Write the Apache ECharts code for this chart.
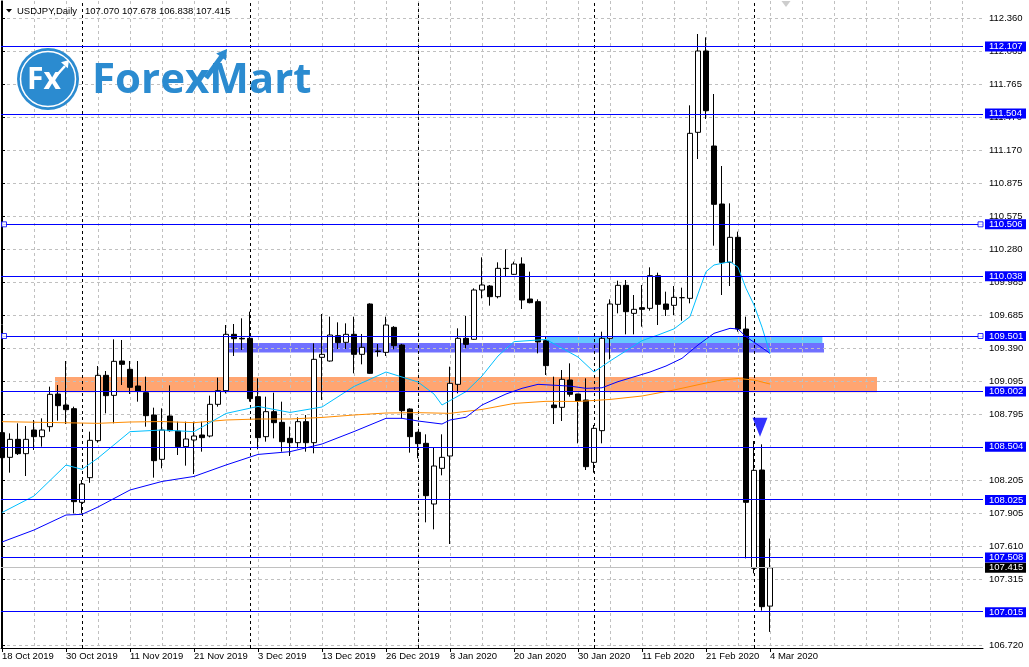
<!DOCTYPE html>
<html>
<head>
<meta charset="utf-8">
<title>USDJPY Daily</title>
<script src="https://cdn.jsdelivr.net/npm/echarts@6/dist/echarts.min.js"></script>
<style>
html, body { margin: 0; padding: 0; background: #fff; }
#main { width: 1029px; height: 667px; }
</style>
</head>
<body>
<div id="main"></div>
<script>
// bar 0 = 18 Oct 2019, one bar per trading day; a date label every 8th bar
var dateLabels = ['18 Oct 2019', '30 Oct 2019', '11 Nov 2019', '21 Nov 2019', '3 Dec 2019',
    '13 Dec 2019', '26 Dec 2019', '8 Jan 2020', '20 Jan 2020', '30 Jan 2020',
    '11 Feb 2020', '21 Feb 2020', '4 Mar 2020'];

// [open, high, low, close]
var candles = [
    [108.631, 108.715, 108.355, 108.406], [108.409, 108.625, 108.271, 108.571], [108.571, 108.715, 108.430, 108.442],
    [108.442, 108.691, 108.241, 108.571], [108.655, 108.745, 108.475, 108.595], [108.595, 108.760, 108.505, 108.655],
    [108.685, 109.045, 108.640, 108.976], [108.979, 109.060, 108.739, 108.874], [108.880, 109.276, 108.709, 108.838],
    [108.847, 108.865, 107.905, 108.010], [108.004, 108.205, 107.905, 108.169], [108.226, 108.640, 108.180, 108.562],
    [108.559, 109.231, 108.541, 109.147], [109.147, 109.186, 108.805, 108.964], [108.967, 109.471, 108.715, 109.273],
    [109.276, 109.465, 109.060, 109.246], [109.201, 109.276, 108.979, 109.039], [109.051, 109.276, 108.910, 109.006],
    [108.991, 109.135, 108.685, 108.784], [108.790, 108.856, 108.226, 108.379], [108.391, 108.850, 108.310, 108.655],
    [108.781, 109.057, 108.640, 108.649], [108.646, 108.730, 108.430, 108.505], [108.505, 108.730, 108.334, 108.574],
    [108.565, 108.730, 108.259, 108.601], [108.610, 108.730, 108.460, 108.586], [108.601, 108.964, 108.589, 108.886],
    [108.886, 109.126, 108.865, 109.009], [109.009, 109.600, 108.985, 109.516], [109.516, 109.609, 109.321, 109.477],
    [109.480, 109.660, 109.375, 109.475], [109.480, 109.720, 108.910, 108.937], [108.955, 109.120, 108.481, 108.586],
    [108.595, 108.955, 108.550, 108.820], [108.820, 108.991, 108.580, 108.721], [108.724, 108.910, 108.460, 108.550],
    [108.580, 108.685, 108.421, 108.541], [108.541, 108.769, 108.490, 108.730], [108.730, 108.790, 108.460, 108.541],
    [108.541, 109.435, 108.445, 109.291], [109.309, 109.699, 108.925, 109.336], [109.276, 109.675, 109.270, 109.510],
    [109.504, 109.624, 109.384, 109.441], [109.444, 109.615, 109.384, 109.516], [109.516, 109.675, 109.165, 109.336],
    [109.336, 109.519, 109.246, 109.399], [109.789, 109.795, 109.160, 109.165], [109.366, 109.429, 109.315, 109.362],
    [109.354, 109.675, 109.321, 109.600], [109.579, 109.590, 109.381, 109.414], [109.420, 109.430, 108.760, 108.829],
    [108.844, 108.850, 108.451, 108.595], [108.634, 108.640, 108.400, 108.532], [108.535, 108.616, 107.824, 108.064],
    [107.989, 108.496, 107.761, 108.331], [108.310, 108.616, 108.247, 108.409], [108.421, 109.225, 107.629, 109.075],
    [109.066, 109.570, 108.985, 109.480], [109.480, 109.681, 109.390, 109.426], [109.471, 109.930, 109.465, 109.915],
    [109.915, 110.209, 109.840, 109.960], [109.951, 109.960, 109.774, 109.855], [109.855, 110.164, 109.840, 110.110],
    [110.110, 110.281, 110.035, 110.108], [110.056, 110.170, 110.050, 110.149], [110.149, 110.209, 109.744, 109.825],
    [109.834, 110.080, 109.795, 109.801], [109.810, 109.831, 109.345, 109.447], [109.459, 109.495, 109.150, 109.234],
    [108.880, 109.135, 108.709, 108.856], [108.859, 109.195, 108.736, 109.111], [109.105, 109.255, 108.955, 108.976],
    [108.979, 108.980, 108.535, 108.916], [108.925, 109.120, 108.295, 108.325], [108.364, 108.700, 108.271, 108.670],
    [108.649, 109.540, 108.535, 109.480], [109.480, 109.831, 109.291, 109.789], [109.786, 109.999, 109.705, 109.957],
    [109.957, 110.005, 109.516, 109.720], [109.705, 109.870, 109.516, 109.741], [109.756, 109.960, 109.585, 109.741],
    [109.750, 110.119, 109.729, 110.044], [110.044, 110.071, 109.600, 109.786], [109.789, 109.900, 109.681, 109.741],
    [109.777, 109.951, 109.690, 109.849], [109.846, 109.936, 109.639, 109.846], [109.840, 111.577, 109.795, 111.325],
    [111.334, 112.219, 111.094, 112.066], [112.066, 112.189, 111.454, 111.529], [111.211, 111.679, 110.314, 110.686],
    [110.689, 111.031, 109.870, 110.164], [110.164, 110.695, 109.951, 110.389], [110.389, 110.440, 109.540, 109.564],
    [109.564, 109.675, 107.500, 108.004], [107.410, 108.556, 107.365, 108.292], [108.295, 108.526, 107.029, 107.065],
    [107.070, 107.678, 106.838, 107.415]
];

// moving averages: [bar, value]
var maFast = [[0, 107.912], [4, 108.061], [8, 108.340], [10, 108.301], [12, 108.403], [16, 108.640], [20, 108.655],
    [24, 108.640], [28, 108.804], [32, 108.867], [36, 108.813], [40, 108.862], [44, 109.047], [48, 109.177],
    [52, 109.087], [54, 108.979], [55, 108.880], [58, 109.000], [60, 109.141], [62, 109.321], [64, 109.450],
    [68, 109.470], [72, 109.312], [74, 109.177], [76, 109.276], [80, 109.459], [82, 109.510], [84, 109.565],
    [86, 109.675], [87, 109.880], [88, 110.080], [89, 110.140], [91, 110.170], [92, 110.120], [93, 109.930],
    [94, 109.780], [95, 109.580], [96, 109.345]];
var maMid = [[0, 107.647], [4, 107.755], [8, 107.890], [10, 107.896], [12, 107.962], [16, 108.115], [20, 108.192],
    [24, 108.237], [28, 108.340], [32, 108.435], [36, 108.460], [40, 108.529], [44, 108.641], [48, 108.760],
    [50, 108.760], [52, 108.736], [55, 108.709], [56, 108.745], [58, 108.770], [60, 108.880], [63, 108.979],
    [65, 109.030], [67, 109.066], [71, 109.050], [73, 109.030], [75, 109.035], [77, 109.090], [81, 109.177],
    [83, 109.231], [85, 109.300], [87, 109.420], [89, 109.525], [91, 109.570], [92, 109.564], [93, 109.495],
    [96, 109.345]];
var maSlow = [[0, 108.730], [8, 108.720], [12, 108.715], [16, 108.727], [20, 108.731], [24, 108.721], [28, 108.745],
    [32, 108.754], [36, 108.754], [40, 108.768], [44, 108.790], [48, 108.808], [52, 108.811], [56, 108.805],
    [60, 108.840], [64, 108.894], [68, 108.913], [72, 108.912], [76, 108.930], [80, 108.961], [84, 109.015],
    [88, 109.078], [90, 109.105], [92, 109.119], [94, 109.105], [96, 109.069]];

var levels = [112.107, 111.504, 110.506, 110.038, 109.501, 109.002, 108.504, 108.025, 107.508, 107.015];
var selectedLevels = [110.506, 109.501];
var monthStarts = [10, 31, 52, 74, 94];
var yTickLabels = ['106.720', '107.020', '107.315', '107.610', '107.905', '108.205', '108.500', '108.795',
    '109.095', '109.390', '109.685', '109.985', '110.280', '110.575', '110.875', '111.170', '111.470',
    '111.765', '112.065', '112.360'];
// [from bar, to bar, top price, bottom price]
var zones = [[6.625, 109.375, 109.132, 108.994], [28.375, 102.75, 109.438, 109.353], [67.875, 102.55, 109.495, 109.438]];
var signalArrow = [94.75, 108.68];

var xMin = -0.125, xMax = 122.625, yMin = 106.693, yMax = 112.516;
var font = 'Liberation Sans';
var logoBlue = '#2b8bd0';
var zoneColors = ['#ffa571', '#7070ff', '#66c8ff'];

var last = candles[candles.length - 1];
var lastPrice = last[3];
var candleData = candles.map(function (c, i) { return [i, c[0], c[3], c[2], c[1]]; });
var gridCols = [], labelCols = [];
for (var k = 0; k <= 120; k += 4) gridCols.push(k);
for (var j = 0; j < dateLabels.length; j++) labelCols.push(j * 8);
var yTicks = yTickLabels.map(Number);

var myChart = echarts.init(document.getElementById('main'));
option = {
    animation: false,
    backgroundColor: '#fff',
    grid: { left: 1, right: 46, top: 1, bottom: 19, outerBoundsMode: 'none' },
    xAxis: [{
        type: 'value', min: xMin, max: xMax,
        axisLine: { show: true, onZero: false, lineStyle: { color: '#000', width: 1 } },
        axisTick: { show: false, customValues: gridCols },
        splitLine: { show: true, lineStyle: { color: '#c0c0c0', width: 1, type: [3, 3] } },
        axisLabel: {
            customValues: labelCols, align: 'left', verticalAlign: 'top', margin: 3, hideOverlap: false,
            color: '#000', fontFamily: font, fontSize: 9.5,
            formatter: function (v) { return dateLabels[Math.round(v / 8)] || ''; }
        }
    }, {
        type: 'value', min: xMin, max: xMax, position: 'bottom',
        axisLine: { show: false },
        axisTick: { show: true, length: 4, customValues: labelCols, lineStyle: { color: '#000' } },
        axisLabel: { show: false },
        splitLine: { show: false }
    }],
    yAxis: [{
        type: 'value', position: 'right', min: yMin, max: yMax,
        axisLine: { show: true, lineStyle: { color: '#000', width: 1 } },
        axisTick: { show: true, length: 3, customValues: yTicks, lineStyle: { color: '#000' } },
        splitLine: { show: true, lineStyle: { color: '#c0c0c0', width: 1, type: [3, 3] } },
        axisLabel: {
            customValues: yTicks, margin: 6, hideOverlap: false, color: '#000', fontFamily: font, fontSize: 9.5,
            formatter: function (v) { return v.toFixed(3); }
        }
    }, {
        type: 'value', position: 'right', min: yMin, max: yMax,
        axisLine: { show: false }, axisTick: { show: false }, splitLine: { show: false },
        axisLabel: {
            customValues: levels.concat([lastPrice]), margin: 2, hideOverlap: false,
            formatter: function (v) {
                return (Math.abs(v - lastPrice) < 1e-6 ? '{c|' : '{b|') + v.toFixed(3) + '}';
            },
            rich: {
                b: { backgroundColor: '#0000ff', color: '#fff', fontFamily: font, fontSize: 9.5,
                    lineHeight: 11, width: 34, padding: [0, 3, 0, 4] },
                c: { backgroundColor: '#000', color: '#fff', fontFamily: font, fontSize: 9.5,
                    lineHeight: 11, width: 34, padding: [0, 3, 0, 4] }
            }
        }
    }, {
        type: 'value', position: 'left', min: yMin, max: yMax,
        axisLine: { show: true, lineStyle: { color: '#000', width: 1 } },
        axisTick: { show: false }, axisLabel: { show: false }, splitLine: { show: false }
    }],
    series: [
        {
            name: 'zones', type: 'line', data: [], silent: true,
            markArea: {
                silent: true, z: -1,
                data: zones.map(function (zn, i) {
                    return [{ xAxis: zn[0], yAxis: zn[2], itemStyle: { color: zoneColors[i], opacity: 1 } },
                        { xAxis: zn[1], yAxis: zn[3] }];
                })
            },
            markLine: {
                silent: true, z: 1, symbol: 'none', label: { show: false },
                lineStyle: { color: '#000', width: 1, type: [3, 3] },
                data: monthStarts.map(function (i) { return { xAxis: i }; })
            }
        },
        {
            name: 'USDJPY', type: 'candlestick', data: candleData, barWidth: 5, z: 2,
            itemStyle: { color: '#fff', color0: '#000', borderColor: '#000', borderColor0: '#000', borderWidth: 1 }
        },
        {
            name: 'maSlow', type: 'line', data: maSlow, showSymbol: false, z: 3,
            lineStyle: { color: '#ff8c00', width: 1 }
        },
        {
            name: 'maMid', type: 'line', data: maMid, showSymbol: false, z: 3,
            lineStyle: { color: '#0000ff', width: 1 }
        },
        {
            name: 'maFast', type: 'line', data: maFast, showSymbol: false, z: 3,
            lineStyle: { color: '#00bfff', width: 1 }
        },
        {
            name: 'levels', type: 'line', data: [], silent: true,
            markLine: {
                silent: true, z: 6, symbol: 'none', label: { show: false },
                lineStyle: { color: '#0000ff', width: 1, type: 'solid' },
                data: levels.map(function (v) { return { yAxis: v }; })
                    .concat([{ yAxis: lastPrice, lineStyle: { color: '#c0c0c0', type: 'solid' } }])
            }
        },
        {
            name: 'handles', type: 'scatter', symbol: 'rect', symbolSize: 5, z: 7, silent: true,
            itemStyle: { color: '#fff', borderColor: '#0000ff', borderWidth: 1 },
            data: selectedLevels.reduce(function (acc, v) {
                return acc.concat([[xMin + 0.375, v], [xMax - 0.31, v]]);
            }, [])
        },
        {
            name: 'signal', type: 'scatter', symbol: 'triangle', symbolRotate: 180, symbolSize: [15, 19],
            z: 7, silent: true, itemStyle: { color: '#0000ff' }, data: [signalArrow]
        },
        {
            name: 'shift', type: 'scatter', symbol: 'triangle', symbolRotate: 180, symbolSize: [9, 6],
            z: 7, silent: true, itemStyle: { color: '#c0c0c0' }, data: [[98, yMax - 0.027]]
        }
    ],
    graphic: [
        { type: 'polygon', z: 100, shape: { points: [[6, 9], [12, 9], [9, 12.5]] }, style: { fill: '#000' } },
        { type: 'text', z: 100, style: { text: 'USDJPY,Daily', x: 17, y: 11, verticalAlign: 'middle',
            font: '9.5px "' + font + '"', fill: '#000' } },
        { type: 'text', z: 100, style: { text: last.map(function (v) { return v.toFixed(3); }).join(' '),
            x: 85, y: 11, verticalAlign: 'middle', font: '9.5px "' + font + '"', fill: '#000' } },
        // ForexMart logo
        { type: 'circle', z: 100, shape: { cx: 48, cy: 79, r: 31 }, style: { fill: logoBlue } },
        { type: 'circle', z: 100, shape: { cx: 48, cy: 79, r: 27.5 }, style: { fill: 'none', stroke: '#fff', lineWidth: 1.5 } },
        { type: 'text', z: 101, style: { text: 'Fx', x: 44, y: 80, align: 'center', verticalAlign: 'middle',
            font: 'bold 30px "Open Sans"', fill: '#fff' } },
        { type: 'line', z: 101, shape: { x1: 55, y1: 77, x2: 65, y2: 66 }, style: { stroke: '#fff', lineWidth: 2.5 } },
        { type: 'polygon', z: 101, shape: { points: [[69, 60], [67.8, 68.2], [61, 62.2]] }, style: { fill: '#fff' } },
        { type: 'text', z: 100, style: { text: 'ForexMart', x: 92, y: 81, verticalAlign: 'middle',
            font: 'bold 42px "Open Sans"', fill: logoBlue } },
        { type: 'line', z: 100, shape: { x1: 206, y1: 78, x2: 222, y2: 56 }, style: { stroke: logoBlue, lineWidth: 5 } },
        { type: 'polygon', z: 100, shape: { points: [[227, 49], [226, 60.6], [216.2, 53.6]] }, style: { fill: logoBlue } }
    ]
};
myChart.setOption(option);
</script>
</body>
</html>
